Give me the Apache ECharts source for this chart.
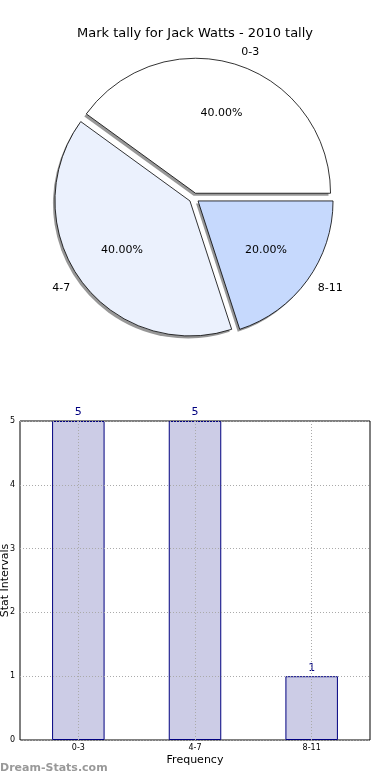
<!DOCTYPE html>
<html>
<head>
<meta charset="utf-8">
<script src="https://cdn.jsdelivr.net/npm/echarts@6/dist/echarts.min.js"></script>
<style>
html,body{margin:0;padding:0;background:#fff;}
#chart{width:390px;height:780px;}
</style>
</head>
<body>
<div id="chart"></div>
<script>
const titleText = 'Mark tally for Jack Watts - 2010 tally';
const pieCategories = ['0-3', '4-7', '8-11'];
const pieValues = [40, 40, 20];
const pieColors = ['#ffffff', '#ebf1fd', '#c6d9fd'];
const barCategories = ['0-3', '4-7', '8-11'];
const barValues = [5, 5, 1];
const yMin = 0, yMax = 5, yInterval = 1;
const yAxisName = 'Stat Intervals';
const xAxisName = 'Frequency';
const watermark = 'Dream-Stats.com';

const FONT = 'DejaVu Sans';
const chart = echarts.init(document.getElementById('chart'), null, {renderer: 'canvas'});

const PIE_CENTER = [194, 198];
const SHADOW_CENTER = [PIE_CENTER[0] - 2, PIE_CENTER[1] + 2.5];
const PIE_R = 135;
const OFFSET = 5;

const sliceStyle = (i) => ({
  color: pieColors[i],
  borderColor: '#000',
  borderWidth: 0.8
});
const shadowStyle = {color: '#8c8c8c', borderWidth: 0, opacity: 0.9};
const clearStyle = {color: 'rgba(0,0,0,0)', borderWidth: 0};

const common = {
  type: 'pie',
  radius: [0, PIE_R],
  startAngle: 0,
  clockwise: false,
  selectedMode: 'multiple',
  selectedOffset: OFFSET,
  avoidLabelOverlap: false,
  silent: true,
  emphasis: {disabled: true}
};

const option = {
  animation: false,
  textStyle: {fontFamily: FONT},
  title: {
    text: titleText,
    left: 'center',
    top: 22,
    textStyle: {fontFamily: FONT, fontSize: 13, fontWeight: 'normal', color: '#000'}
  },
  graphic: [{
    type: 'text', left: 0, top: 763,
    style: {text: watermark, font: 'bold 11px "DejaVu Sans"', fill: '#999'}
  }],
  grid: {
    left: 20, right: 20, top: 421, bottom: 40,
    containLabel: false,
    outerBoundsMode: 'none',
    show: true, borderColor: '#000', borderWidth: 1, backgroundColor: 'transparent'
  },
  xAxis: {
    type: 'category',
    data: barCategories,
    axisLine: {show: false},
    axisTick: {show: false},
    axisLabel: {fontSize: 8, color: '#000', margin: 4, fontFamily: FONT},
    splitLine: {show: false},
    name: xAxisName,
    nameLocation: 'middle',
    nameGap: 15,
    nameMoveOverlap: false,
    nameTextStyle: {fontSize: 11, color: '#000', fontFamily: FONT}
  },
  yAxis: {
    type: 'value',
    min: yMin, max: yMax, interval: yInterval,
    z: 5,
    axisLine: {show: false},
    axisTick: {show: false},
    axisLabel: {fontSize: 8, color: '#000', margin: 5, fontFamily: FONT},
    splitLine: {show: true, lineStyle: {color: '#aaa', type: [1, 2], width: 1}},
    name: yAxisName,
    nameLocation: 'middle',
    nameGap: 9,
    nameMoveOverlap: false,
    nameTextStyle: {fontSize: 11, color: '#000', fontFamily: FONT}
  },
  series: [
    Object.assign({}, common, {
      center: SHADOW_CENTER,
      z: 1,
      label: {show: false},
      labelLine: {show: false},
      itemStyle: shadowStyle,
      select: {itemStyle: shadowStyle},
      data: pieCategories.map((c, i) => ({name: c, value: pieValues[i], selected: true}))
    }),
    Object.assign({}, common, {
      center: PIE_CENTER,
      z: 2,
      label: {
        show: true, position: 'outside', formatter: '{b}',
        fontSize: 11, color: '#000', fontFamily: FONT,
        alignTo: 'none', distanceToLabelLine: 0
      },
      labelLine: {show: false, length: 13, length2: 0},
      data: pieCategories.map((c, i) => ({
        name: c, value: pieValues[i], selected: true,
        itemStyle: sliceStyle(i),
        select: {itemStyle: sliceStyle(i)}
      }))
    }),
    Object.assign({}, common, {
      center: PIE_CENTER,
      radius: [PIE_R * 0.2, PIE_R],
      z: 3,
      itemStyle: clearStyle,
      select: {itemStyle: clearStyle},
      label: {
        show: true, position: 'inside',
        formatter: (p) => p.value.toFixed(2) + '%',
        fontSize: 11, color: '#000', fontFamily: FONT
      },
      labelLine: {show: false},
      data: pieCategories.map((c, i) => ({name: c, value: pieValues[i], selected: true}))
    }),
    {
      type: 'bar',
      data: barValues,
      barWidth: '45%',
      z: 2,
      itemStyle: {color: '#cccce6', borderColor: '#000080', borderWidth: 1},
      emphasis: {disabled: true},
      label: {show: true, position: 'top', color: '#000080', fontSize: 11, distance: 3, fontFamily: FONT},
      markLine: {
        silent: true,
        symbol: ['none', 'none'],
        label: {show: false},
        lineStyle: {color: '#aaa', type: [1, 2], width: 1},
        data: barCategories.map(c => ({xAxis: c}))
      }
    }
  ]
};
chart.setOption(option);
</script>
</body>
</html>
